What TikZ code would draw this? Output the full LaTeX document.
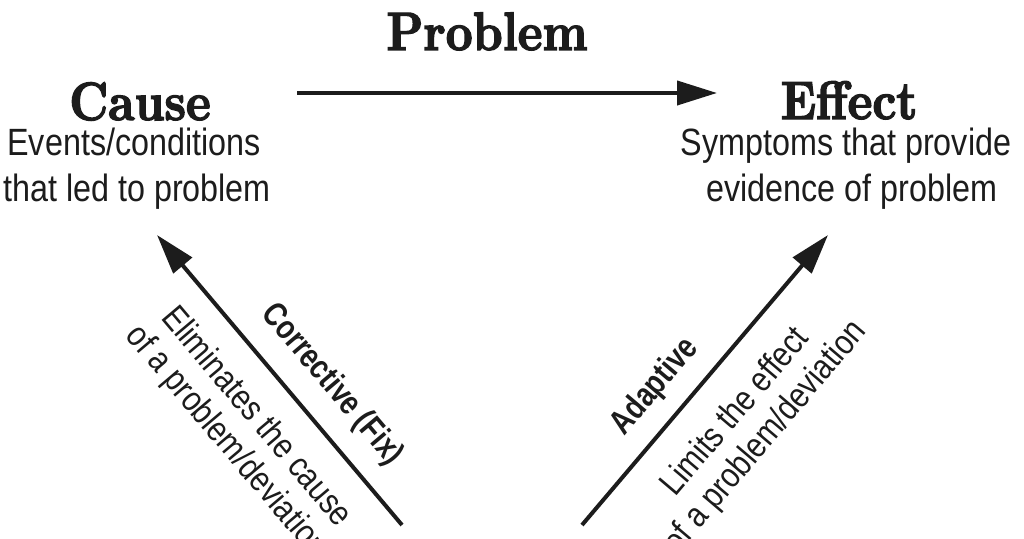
\documentclass[tikz,border=0pt]{standalone}
\usepackage{fontspec}
\newfontfamily\condsans[FakeStretch=0.85]{Liberation Sans}
\newfontfamily\boldcond[FakeStretch=0.8]{Liberation Sans Bold}
\newfontfamily\heavyserif[FakeBold=2.5,FakeStretch=0.87]{lmroman10-bold.otf}
\usetikzlibrary{arrows.meta}
\definecolor{ink}{HTML}{1C1C1C}
\begin{document}
\begin{tikzpicture}[x=1pt,y=-1pt,
  heavy/.style={font=\heavyserif\fontsize{54}{56}\selectfont, text=ink, inner sep=0pt, anchor=base},
  body/.style={font=\condsans\fontsize{38}{46}\selectfont, text=ink, inner sep=0pt, anchor=base},
  lbl/.style={font=\boldcond\fontsize{34}{36}\selectfont, text=ink, inner sep=0pt},
  note/.style={font=\condsans\fontsize{35}{39}\selectfont, text=ink, inner sep=0pt, align=center},
  arr/.style={draw=ink, line width=4pt, -{Triangle[length=40pt,width=24pt]}}]
\useasboundingbox (0,0) rectangle (1024,538);
\clip (0,0) rectangle (1024,538);
\fill[white] (0,0) rectangle (1024,538);
% titles
\node[heavy] (problem) at (487,50) {Problem};
\node[heavy] (cause) at (140,120) {Cause};
\node[heavy] (effect) at (849,119) {Effect};
\node[body] (causeA) at (134,155) {Events/conditions};
\node[body] (causeB) at (137,201) {that led to problem};
\node[body] (effectA) at (846,155) {Symptoms that provide};
\node[body] (effectB) at (852,201) {evidence of problem};
% arrow ends
\coordinate (pS) at (297,93);
\coordinate (pE) at (717,93);
\coordinate (cS) at (402,525);
\coordinate (cE) at (157,235);
\coordinate (aS) at (582,525);
\coordinate (aE) at (828,235);
\draw[arr] (pS) -- (pE);
\draw[arr] (cS) -- (cE);
\draw[arr] (aS) -- (aE);
% diagonal labels
\node[lbl, rotate=-49.8] (corr) at (332,385) {Corrective (Fix)};
\node[note, rotate=-49.8] (elim) at (241,430) {Eliminates the cause\\of a problem/deviation};
\node[lbl, rotate=49.7] (adap) at (655,387) {Adaptive};
\node[note, rotate=49.7] (lim) at (751,425) {Limits the effect\\of a problem/deviation};
\end{tikzpicture}
\end{document}
